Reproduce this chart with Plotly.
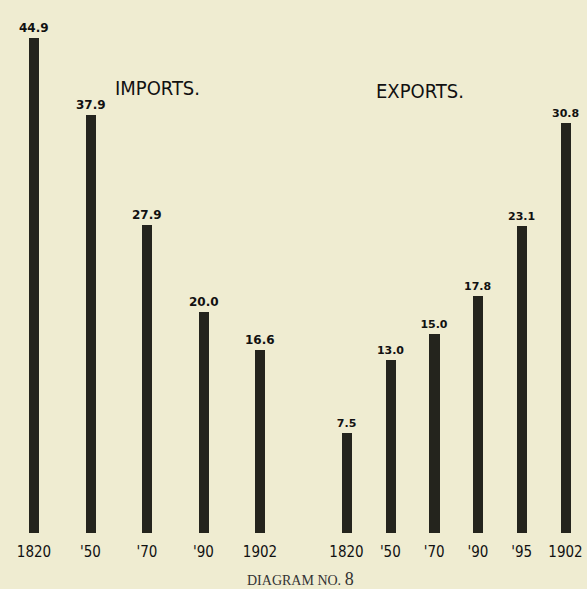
import plotly.graph_objects as go

# ---- data ----
import_years = ["1820", "'50", "'70", "'90", "1902"]
import_values = [44.9, 37.9, 27.9, 20.0, 16.6]
export_years = ["1820", "'50", "'70", "'90", "'95", "1902"]
export_values = [7.5, 13.0, 15.0, 17.8, 23.1, 30.8]

BG = "#efecd1"
BAR = "#24241d"
LETTER = "Liberation Sans Narrow, DejaVu Sans Condensed, Arial Narrow, Liberation Sans, sans-serif"

fig = go.Figure()

fig.add_trace(go.Bar(
    x=list(range(len(import_years))), y=import_values,
    text=[f"{v:.1f}" for v in import_values], textposition="outside",
    textfont=dict(size=12, color="#111", family="DejaVu Sans", weight="bold"),
    constraintext="none",
    marker=dict(color=BAR, line=dict(width=0)), width=0.18,
    cliponaxis=False, xaxis="x", yaxis="y", showlegend=False,
))
fig.add_trace(go.Bar(
    x=list(range(len(export_years))), y=export_values,
    text=[f"{v:.1f}" for v in export_values], textposition="outside",
    textfont=dict(size=11, color="#111", family="DejaVu Sans", weight="bold"),
    constraintext="none",
    marker=dict(color=BAR, line=dict(width=0)), width=0.23,
    cliponaxis=False, xaxis="x2", yaxis="y2", showlegend=False,
))

tickfont = dict(size=15, color="#111", family=LETTER)
fig.update_layout(
    width=587, height=589,
    margin=dict(l=0, r=0, t=0, b=56),
    paper_bgcolor=BG, plot_bgcolor=BG,
    bargap=0,
    xaxis=dict(domain=[0.0098, 0.491], range=[-0.5, 4.5],
               tickmode="array", tickvals=list(range(len(import_years))), ticktext=import_years,
               tickfont=tickfont, showgrid=False, zeroline=False, showline=False,
               ticks="outside", ticklen=5, tickcolor=BG),
    xaxis2=dict(domain=[0.553, 1.0], range=[-0.5, 5.49],
                tickmode="array", tickvals=list(range(len(export_years))), ticktext=export_years,
                tickfont=tickfont, showgrid=False, zeroline=False, showline=False,
                ticks="outside", ticklen=5, tickcolor=BG, anchor="y2"),
    yaxis=dict(range=[0, 48.3], visible=False, showgrid=False, zeroline=False),
    yaxis2=dict(range=[0, 40.08], visible=False, showgrid=False, zeroline=False, anchor="x2"),
    annotations=[
        dict(text="IMPORTS.", x=157, y=88, xref="paper", yref="paper", showarrow=False,
             xanchor="center", yanchor="middle",
             font=dict(size=20, color="#111", family=LETTER)),
        dict(text="EXPORTS.", x=420, y=91, xref="paper", yref="paper", showarrow=False,
             xanchor="center", yanchor="middle",
             font=dict(size=20, color="#111", family=LETTER)),
        dict(text="DIAGRAM NO. <span style='font-size:18px'>8</span>", x=300, y=579,
             xref="paper", yref="paper", showarrow=False,
             xanchor="center", yanchor="middle",
             font=dict(size=14, color="#333", family="Liberation Serif, serif")),
    ],
)

# convert pixel positions of annotations to paper coords
W, H = 587, 589
ml, mr, mt, mb = 0, 0, 0, 56
pw, ph = W - ml - mr, H - mt - mb
for a in fig.layout.annotations:
    a.x = (a.x - ml) / pw
    a.y = 1 - (a.y - mt) / ph

fig.write_html("out.html", config={"displayModeBar": False},
               post_script="document.body.style.margin='0';document.body.style.background='%s';" % BG)
